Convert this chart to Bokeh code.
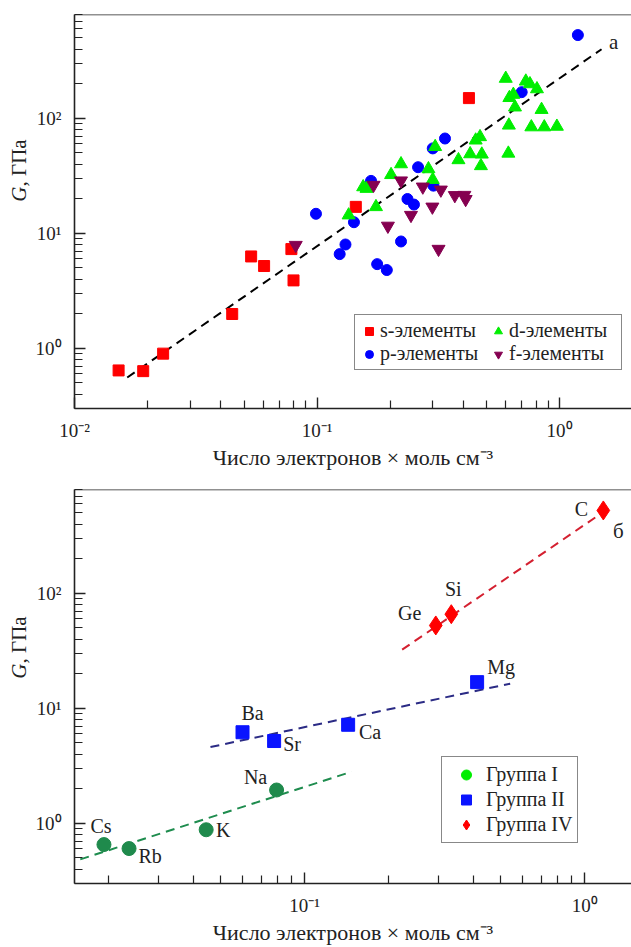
import math
from bokeh.plotting import figure
from bokeh.models import (Legend, LegendItem, Label, Span, FixedTicker,
                          CustomJSTickFormatter, ColumnDataSource, Range1d)
from bokeh.layouts import column, row
from bokeh.core.properties import value
from bokeh.embed import file_html
from bokeh.resources import INLINE

# ---------------- data: panel (а) ----------------
s_x = [0.0152, 0.0192, 0.0232, 0.0447, 0.0535, 0.0605, 0.0784, 0.080, 0.1445, 0.423]
s_y = [0.643, 0.634, 0.90, 1.99, 6.3, 5.2, 7.3, 3.9, 17.0, 150]
p_x = [0.099, 0.142, 0.131, 0.124, 0.177, 0.194, 0.222, 0.167, 0.261, 0.236,
       0.251, 0.300, 0.337, 0.302, 1.19, 0.698]
p_y = [14.8, 12.5, 8.0, 6.6, 5.4, 4.8, 8.5, 28.6, 37.6, 19.9,
       17.8, 54.8, 66.8, 26.0, 530, 169]
d_x = [0.135, 0.175, 0.155, 0.160, 0.202, 0.222, 0.288, 0.300, 0.307, 0.383,
       0.428, 0.478, 0.474, 0.451, 0.470, 0.615, 0.618, 0.765, 0.865, 0.975,
       0.843, 0.655, 0.621, 0.645, 0.600, 0.726, 0.755, 0.807]
d_y = [14.4, 17.0, 25.3, 24.5, 32.3, 40.1, 36.3, 29.3, 56.6, 43.5,
       49.0, 48.7, 38.6, 64.5, 69.0, 49.6, 87, 84, 84, 85,
       119, 125, 151, 161, 222, 210, 199, 180]
f_x = [0.0817, 0.171, 0.222, 0.273, 0.324, 0.370, 0.405, 0.41, 0.299, 0.244, 0.196, 0.317]
f_y = [7.9, 26.3, 28.7, 25.4, 23.9, 21.4, 21.5, 19.8, 17.0, 14.4, 11.6, 7.3]
fit_a_x = [0.0165, 1.49]
fit_a_y = [0.558, 399]

# ---------------- data: panel (б) ----------------
g1_names = ["Cs", "Rb", "K", "Na"]
g1_x = [0.0192, 0.0236, 0.0445, 0.0794]
g1_y = [0.654, 0.604, 0.88, 1.95]
g2_names = ["Ba", "Sr", "Ca", "Mg"]
g2_x = [0.060, 0.0778, 0.143, 0.413]
g2_y = [6.2, 5.2, 7.2, 16.9]
g4_names = ["Ge", "Si", "C"]
g4_x = [0.294, 0.334, 1.166]
g4_y = [52.6, 65.9, 526]
g1_fit_x = [0.0158, 0.147]
g1_fit_y = [0.486, 2.81]
g2_fit_x = [0.0461, 0.542]
g2_fit_y = [4.61, 16.4]
g4_fit_x = [0.223, 1.255]
g4_fit_y = [32.4, 577]

x_label = "Число электронов × моль см⁻³"
y_label_italic = "G"
y_label_rest = ", ГПа"

SERIF = "Liberation Serif"
AX = "#222222"
TXT = "#222222"

sup_fmt = CustomJSTickFormatter(code="""
const e = Math.round(Math.log10(tick));
const m = {"-":"\u207b","0":"\u2070","1":"\u00b9","2":"\u00b2","3":"\u00b3"};
return "10" + String(e).split("").map(c => m[c]).join("");
""")

LAB_W = 32


def minor(decades):
    out = []
    for d in decades:
        for k in range(2, 10):
            out.append(k * 10.0 ** d)
    return out


def make_fig(height, top, bottom, x_range, x_major, x_minor):
    p = figure(width=631 - LAB_W, height=height, x_axis_type="log", y_axis_type="log",
               x_range=x_range, y_range=(0.3, 800),
               output_backend="svg", toolbar_location=None,
               min_border_left=72 - LAB_W, min_border_right=0,
               min_border_top=top, min_border_bottom=bottom)
    p.outline_line_color = None
    p.grid.visible = False
    p.background_fill_color = "white"
    p.border_fill_color = "white"
    p.xaxis.ticker = FixedTicker(ticks=x_major, minor_ticks=x_minor)
    p.yaxis.ticker = FixedTicker(ticks=[1, 10, 100],
                                 minor_ticks=[v for v in minor([-1, 0, 1, 2]) if 0.3 <= v <= 800])
    for ax in (p.xaxis[0], p.yaxis[0]):
        ax.formatter = sup_fmt
        ax.axis_line_color = AX
        ax.axis_line_width = 1.6
        ax.major_tick_line_color = AX
        ax.minor_tick_line_color = AX
        ax.major_tick_line_width = 1.4
        ax.minor_tick_line_width = 1.2
        ax.major_tick_in = 11
        ax.major_tick_out = 0
        ax.minor_tick_in = 8
        ax.minor_tick_out = 0
        ax.major_label_text_font = SERIF
        ax.major_label_text_font_size = "19px"
        ax.major_label_text_color = TXT
    p.xaxis.major_label_standoff = 11
    p.yaxis.major_label_standoff = 13
    p.xaxis.axis_label = x_label
    p.xaxis.axis_label_text_font = SERIF
    p.xaxis.axis_label_text_font_style = "normal"
    p.xaxis.axis_label_text_font_size = "22px"
    p.xaxis.axis_label_text_color = TXT
    p.xaxis.axis_label_standoff = 1
    p.add_layout(Span(location=800, dimension="width", line_color=AX, line_width=1.6))
    return p


def make_label_fig(height, y_from_frame_bottom):
    # the row aligns this figure's frame with the neighbouring plot's frame
    f = figure(width=LAB_W, height=height, x_range=Range1d(0, 1), y_range=Range1d(0, 1),
               x_axis_location=None, y_axis_location=None,
               output_backend="svg", toolbar_location=None,
               min_border_left=0, min_border_right=0, min_border_top=0, min_border_bottom=0)
    f.grid.visible = False
    f.outline_line_color = None
    f.border_fill_color = "white"
    f.background_fill_color = "white"
    f.add_layout(Label(x=18, y=y_from_frame_bottom, x_units="screen", y_units="screen",
                       text=y_label_italic, angle=math.pi / 2, text_align="right",
                       text_baseline="middle", text_font=SERIF, text_font_style="italic",
                       text_font_size="21px", text_color=TXT))
    f.add_layout(Label(x=18, y=y_from_frame_bottom, x_units="screen", y_units="screen",
                       text=y_label_rest, angle=math.pi / 2, text_align="left",
                       text_baseline="middle", text_font=SERIF,
                       text_font_size="21px", text_color=TXT))
    return f


H1, H2 = 472, 475

# ---------------- panel (а) ----------------
p1 = make_fig(H1, 14, 61, (0.01, 1.98), [0.01, 0.1, 1], minor([-2, -1, 0]))
lab1 = make_label_fig(H1, 222)
p1.line(fit_a_x, fit_a_y, line_color="black", line_width=2, line_dash="9 6")
r_s = p1.scatter(s_x, s_y, marker="square", size=11, color="#ff0000")
r_p = p1.scatter(p_x, p_y, marker="circle", size=11, color="#0000ff")
r_d = p1.scatter(d_x, d_y, marker="triangle", size=13, color="#00ee00")
r_f = p1.scatter(f_x, f_y, marker="inverted_triangle", size=13, color="#850050")
p1.add_layout(Label(x=1.67, y=463, text="а", text_font=SERIF, text_font_size="21px",
                    text_align="center", text_baseline="middle", text_color=TXT))
leg1 = Legend(items=[LegendItem(label="s-элементы", renderers=[r_s]),
                     LegendItem(label="p-элементы", renderers=[r_p]),
                     LegendItem(label="d-элементы", renderers=[r_d]),
                     LegendItem(label="f-элементы", renderers=[r_f])],
              location=(280, 38), ncols=2)
leg1.label_text_font = SERIF
leg1.label_text_font_size = "20px"
leg1.label_text_color = TXT
leg1.label_height = 20
leg1.label_width = 108
leg1.glyph_height = 20
leg1.glyph_width = 20
leg1.label_standoff = 1
leg1.spacing = 0
leg1.padding = 4
leg1.margin = 0
leg1.border_line_color = "#111111"
leg1.border_line_width = 1.5
leg1.background_fill_alpha = 1
p1.add_layout(leg1)

# ---------------- panel (б) ----------------
p2 = make_fig(H2, 17, 60, (0.01507, 1.47), [0.1, 1], minor([-2, -1, 0]))
lab2 = make_label_fig(H2, 220)
p2.line(g1_fit_x, g1_fit_y, line_color="#1e8c4e", line_width=2, line_dash="9 6")
p2.line(g2_fit_x, g2_fit_y, line_color="#2b2b85", line_width=2, line_dash="9 6")
p2.line(g4_fit_x, g4_fit_y, line_color="#d42030", line_width=2, line_dash="9 6")
src1 = ColumnDataSource(dict(x=g1_x, y=g1_y, name=g1_names,
                             dx=[-3, 21, 17, -21], dy=[-19, 7, 0, -13]))
src2 = ColumnDataSource(dict(x=g2_x, y=g2_y, name=g2_names,
                             dx=[10, 18, 22, 24], dy=[-19, 3, 7, -15]))
src4 = ColumnDataSource(dict(x=g4_x, y=g4_y, name=g4_names,
                             dx=[-26, 2, -22], dy=[-12, -25, -1]))
# legend proxy for group I (bright green), hidden under the dark-green points
r1_proxy = p2.scatter(g1_x, g1_y, marker="circle", size=11, color="#00ee00")
p2.scatter("x", "y", source=src1, marker="circle", size=14, color="#1f8a4c")
r2 = p2.scatter("x", "y", source=src2, marker="square", size=13, color="#0a14ff")
r4 = p2.scatter("x", "y", source=src4, marker="diamond", size=19, color="#ff0000")
for src in (src1, src2, src4):
    p2.text("x", "y", text="name", source=src, x_offset="dx", y_offset="dy",
            text_align="center", text_baseline="middle",
            text_font=value(SERIF), text_font_size="20px", text_color=TXT)
p2.add_layout(Label(x=1.32, y=352, text="б", text_font=SERIF, text_font_size="21px",
                    text_align="center", text_baseline="middle", text_color=TXT))
leg2 = Legend(items=[LegendItem(label="Группа I", renderers=[r1_proxy]),
                     LegendItem(label="Группа II", renderers=[r2]),
                     LegendItem(label="Группа IV", renderers=[r4])],
              location=(367, 40))
leg2.label_text_font = SERIF
leg2.label_text_font_size = "20px"
leg2.label_text_color = TXT
leg2.label_height = 25
leg2.glyph_height = 25
leg2.glyph_width = 38
leg2.label_standoff = 1
leg2.spacing = 0
leg2.padding = 5
leg2.margin = 0
leg2.border_line_color = "#111111"
leg2.border_line_width = 1.5
p2.add_layout(leg2)

layout = column(row(lab1, p1, spacing=0), row(lab2, p2, spacing=0), spacing=0)
open("out.html", "w").write(file_html(layout, INLINE))
